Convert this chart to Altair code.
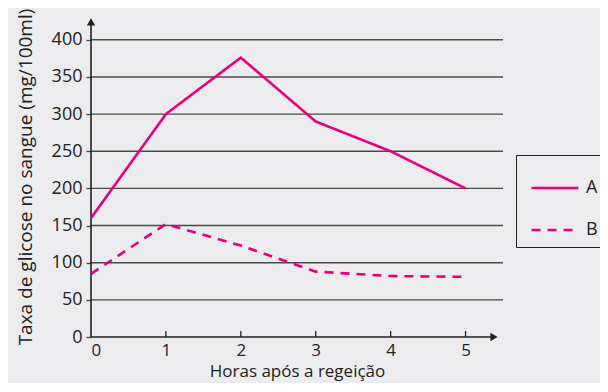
import altair as alt
import pandas as pd

hours = [0, 1, 2, 3, 4, 5]
serie_a = [160, 300, 376, 290, 250, 200]
serie_b = [85, 152, 123, 88, 82, 81]
grid_vals = [50, 100, 150, 200, 250, 300, 350, 400]
x_ticks = [1, 2, 3, 4, 5]

MAG = "#E6007E"
FONT = "Open Sans"
W, H = 412, 321
XMAX, YMAX = 5.5, 432
XT = "Horas após a regeição"
YT = "Taxa de glicose no sangue (mg/100ml)"

df = pd.DataFrame({
    "h": hours * 2,
    "v": serie_a + serie_b,
    "s": ["A"] * 6 + ["B"] * 6,
})

xs = alt.Scale(domain=[0, XMAX], nice=False)
ys = alt.Scale(domain=[0, YMAX], nice=False)

x_axis = alt.Axis(values=hours, grid=False, domain=False, ticks=False,
                  labelPadding=5, labelFontSize=17, titlePadding=5, titleFontSize=17, format="d")
y_axis = alt.Axis(values=[0] + grid_vals, grid=False, domain=False, ticks=True,
                  tickSize=5, tickColor="#444", tickWidth=1.3,
                  labelPadding=4, titlePadding=16)


def X(f):
    return alt.X(f, type="quantitative", scale=xs, title=XT, axis=x_axis)


def Y(f):
    return alt.Y(f, type="quantitative", scale=ys, title=YT, axis=y_axis)


grid = alt.Chart(pd.DataFrame({"g": grid_vals})).mark_rule(color="#4a4a4a", strokeWidth=1.4).encode(
    y=Y("g"), x=alt.value(0), x2=alt.value(W),
)

ticks = alt.Chart(pd.DataFrame({"t": x_ticks})).mark_rule(color="#222", strokeWidth=1.3).encode(
    x=X("t"), y=alt.value(H), y2=alt.value(H - 6),
)

axes_df = pd.DataFrame({"x1": [0, 0], "y1": [0, 0], "x2": [5.38, 0], "y2": [0, 424]})
axes = alt.Chart(axes_df).mark_rule(color="#222", strokeWidth=1.6).encode(
    x=X("x1"), x2="x2:Q", y=Y("y1"), y2="y2:Q",
)

arrow_df = pd.DataFrame({"x": [5.38, 0], "y": [0, 424], "shape": ["triangle-right", "triangle-up"]})
arrows = alt.Chart(arrow_df).mark_point(filled=True, color="#222", size=70, opacity=1).encode(
    x=X("x"), y=Y("y"),
    shape=alt.Shape("shape:N", scale=None, legend=None),
)

lines = alt.Chart(df).mark_line(color=MAG, strokeWidth=2.6).encode(
    x=X("h"), y=Y("v"),
    strokeDash=alt.StrokeDash("s:N", title=None,
                              scale=alt.Scale(domain=["A", "B"], range=[[1, 0], [9, 7]]),
                              legend=alt.Legend(orient="none", legendX=425, legendY=139,
                                                symbolType="stroke", symbolSize=2200,
                                                symbolStrokeColor=MAG, symbolStrokeWidth=2.6,
                                                strokeColor="#222", padding=8,
                                                symbolOffset=6,
                                                labelFontSize=18, labelFont=FONT, labelColor="#222",
                                                rowPadding=8, labelOffset=6)),
)

chart = alt.layer(grid, ticks, axes, arrows, lines).properties(
    width=W, height=H,
    background="#ECECEE",
    padding={"left": 83, "top": 8, "right": 97, "bottom": 46},
    autosize=alt.AutoSizeParams(type="none"),
).configure_view(stroke=None).configure_axis(
    labelFont=FONT, titleFont=FONT, labelFontSize=18, titleFontSize=19,
    labelColor="#222", titleColor="#222", titleFontWeight="normal",
)

chart.save("out.html", embed_options={"renderer": "svg", "actions": False})
